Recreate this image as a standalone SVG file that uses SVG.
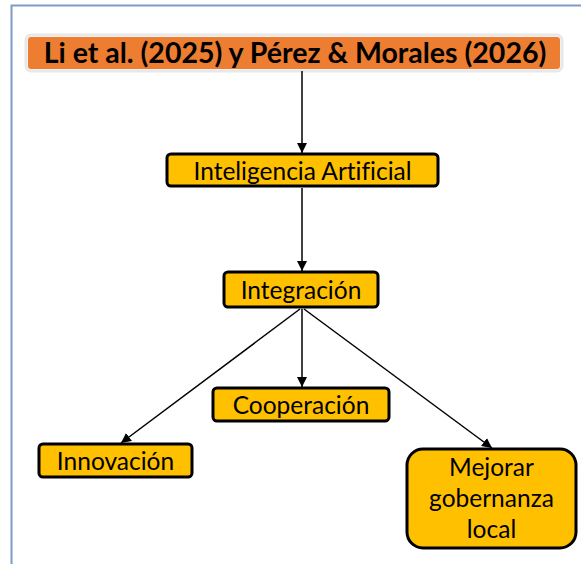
<svg xmlns="http://www.w3.org/2000/svg" width="581" height="564" viewBox="0 0 581 564">
<defs>
<marker id="ah" viewBox="0 0 10 10" refX="10" refY="5" markerWidth="10" markerHeight="10" markerUnits="userSpaceOnUse" orient="auto">
<path d="M0,0 L10,5 L0,10 z" fill="#000"/>
</marker>
<style>
.box{fill:#FFC000;stroke:#000;stroke-width:3}
.t{font-family:Lato,"Liberation Sans",sans-serif;font-size:24.5px;fill:#000;text-anchor:middle;font-variant-ligatures:none}
.c{stroke:#000;stroke-width:1.5;fill:none;marker-end:url(#ah)}
</style>
</defs>
<rect x="0" y="0" width="581" height="564" fill="#fff"/>
<rect x="11.5" y="5.5" width="600" height="600" fill="none" stroke="#7F9BC4" stroke-width="2"/>
<g id="title">
<rect x="26" y="35" width="536" height="36" rx="5" fill="none" stroke="#E8E8E8" stroke-width="3"/>
<rect x="28" y="37" width="532" height="32" rx="3" fill="#ED7D31"/>
<text x="295" y="63" class="t" style="font-size:28.5px;font-weight:bold">Li et al. (2025) y Pérez &amp; Morales (2026)</text>
</g>
<g id="connectors">
<line x1="302" y1="71" x2="302" y2="153" class="c"/>
<line x1="302" y1="188" x2="302" y2="271" class="c"/>
<line x1="302" y1="309" x2="302" y2="387" class="c"/>
<line x1="300" y1="309" x2="121" y2="443" class="c"/>
<line x1="304" y1="309" x2="492" y2="448" class="c"/>
</g>
<g id="ia">
<rect x="167" y="154" width="271" height="32" rx="4" class="box"/>
<text x="302.5" y="180" class="t">Inteligencia Artificial</text>
</g>
<g id="integracion">
<rect x="224" y="272" width="154" height="35" rx="4" class="box"/>
<text x="301" y="299" class="t">Integración</text>
</g>
<g id="cooperacion">
<rect x="213" y="388" width="176" height="33" rx="4" class="box"/>
<text x="301" y="414" class="t">Cooperación</text>
</g>
<g id="innovacion">
<rect x="39" y="444" width="153" height="33" rx="4" class="box"/>
<text x="115.5" y="470" class="t">Innovación</text>
</g>
<g id="mejorar">
<rect x="407" y="449" width="169" height="99" rx="16" class="box"/>
<text x="491.5" y="476" class="t">Mejorar</text>
<text x="491.5" y="507" class="t">gobernanza</text>
<text x="491.5" y="538" class="t">local</text>
</g>
</svg>
